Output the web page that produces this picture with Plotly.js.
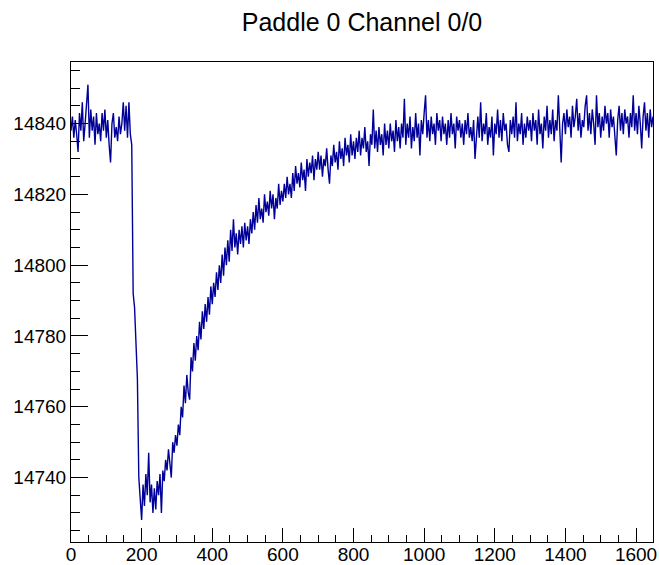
<!DOCTYPE html>
<html>
<head>
<meta charset="utf-8">
<script src="https://cdn.plot.ly/plotly-3.0.1.min.js"></script>
<style>html,body{margin:0;padding:0;background:#fff;}#chart{width:659px;height:565px;}</style>
</head>
<body>
<div id="chart"></div>
<script>
const STEP = 4;

// Segment start positions (x)
const baselineStart = 0;
const dropStart = 172;
const troughStart = 200;
const riseStart = 300;
const approachStart = 704;
const tailStart = 1104;

// ADC values (one value every STEP units)
const baseline = [14838,14842,14836,14841,14837,14832,14843,14838,14846,14835,14840,14847,14851,14836,14844,14838,14842,14834,14843,14837,14840,14835,14843,14838,14844,14836,14841,14834,14829,14840,14843,14836,14839,14835,14842,14837,14840,14846,14838,14845,14836,14846,14837];

const drop = [14834,14792,14788,14777,14768,14740,14733];

const trough = [14728,14738,14732,14741,14735,14747,14733,14738,14730,14737,14731,14739,14735,14741,14730,14742,14739,14745,14742,14748,14744,14740,14750,14747,14752];

const rise = [14749,14755,14752,14760,14757,14766,14761,14769,14764,14762,
  14774,14770,14778,14773,14780,14776,14784,14779,14787,14782,
  14789,14784,14791,14786,14794,14789,14795,14791,14798,14793,
  14800,14795,14803,14797,14805,14800,14807,14801,14810,14804,
  14813,14805,14809,14803,14810,14806,14811,14805,14812,14807,
  14811,14806,14813,14809,14815,14810,14817,14812,14819,14813,
  14816,14812,14820,14815,14818,14814,14821,14816,14820,14813,
  14819,14816,14823,14817,14821,14818,14823,14819,14825,14820,
  14823,14819,14826,14821,14828,14823,14826,14822,14829,14824,
  14827,14821,14830,14825,14829,14826,14831,14824,14830,14827,
  14832];

const approach = [14827,14831,14825,14830,14828,14833,14827,14823,14831,14828,
  14834,14829,14832,14827,14835,14830,14833,14828,14836,14831,
  14834,14829,14837,14831,14835,14830,14836,14832,14838,14831,
  14836,14833,14839,14832,14835,14828,14837,14834,14844,14833,
  14838,14832,14839,14834,14837,14831,14840,14834,14838,14833,
  14840,14835,14838,14832,14841,14835,14839,14833,14840,14836,
  14847,14834,14840,14836,14842,14833,14839,14835,14843,14836,
  14840,14831,14841,14837,14843,14848,14836,14841,14835,14842,
  14837,14840,14834,14843,14838,14841,14835,14842,14837,14840,
  14834,14841,14836,14843,14837,14840,14833,14842,14838,14841];

const tail = [14836,14840,14834,14841,14837,14843,14836,14839,14835,14841,
  14830,14838,14842,14836,14846,14835,14840,14837,14843,14834,
  14839,14836,14842,14831,14840,14837,14844,14836,14841,14835,
  14843,14838,14840,14834,14832,14841,14837,14842,14836,14846,
  14835,14840,14837,14843,14834,14840,14836,14842,14838,14841,
  14835,14843,14838,14841,14834,14844,14837,14840,14833,14842,
  14838,14845,14836,14841,14837,14844,14835,14841,14838,14848,
  14836,14829,14840,14843,14837,14844,14839,14842,14836,14845,
  14839,14842,14847,14838,14843,14836,14841,14839,14845,14848,
  14838,14843,14837,14844,14840,14834,14848,14839,14843,14836,
  14842,14838,14845,14840,14843,14836,14844,14839,14842,14835,
  14831,14841,14845,14838,14843,14837,14844,14840,14842,14836,
  14843,14839,14848,14838,14843,14837,14845,14840,14833,14842,
  14846,14838,14843,14836,14844,14839,14842];

const segments = [
  [baselineStart, baseline],
  [dropStart, drop],
  [troughStart, trough],
  [riseStart, rise],
  [approachStart, approach],
  [tailStart, tail]
];

const xs = [], ys = [];
segments.forEach(([start, vals]) => {
  vals.forEach((v, i) => { xs.push(start + i * STEP); ys.push(v); });
});

const FONT = 'Liberation Sans, Arial, Helvetica, sans-serif';

const trace = {
  x: xs, y: ys, type: 'scatter', mode: 'lines',
  line: {color: '#000099', width: 1.4},
  hoverinfo: 'x+y'
};

const layout = {
  width: 659, height: 565,
  margin: {l: 71, r: 6, t: 62, b: 23, pad: 0},
  paper_bgcolor: '#ffffff', plot_bgcolor: '#ffffff',
  showlegend: false,
  font: {family: FONT, size: 19, color: '#000'},
  title: {
    text: 'Paddle 0 Channel 0/0',
    font: {family: FONT, size: 25, color: '#000'},
    xref: 'paper', x: 0.5, xanchor: 'center',
    yref: 'container', y: 1 - 22 / 565, yanchor: 'middle'
  },
  xaxis: {
    range: [0, 1648], autorange: false,
    tickmode: 'linear', tick0: 0, dtick: 200,
    ticks: 'inside', ticklen: 14, tickwidth: 1, tickcolor: '#000',
    minor: {ticks: 'inside', ticklen: 7, dtick: 50, tick0: 0, tickcolor: '#000', tickwidth: 1, showgrid: false},
    showgrid: false, zeroline: false,
    showline: true, linecolor: '#000', linewidth: 1, mirror: true,
    tickfont: {family: FONT, size: 19, color: '#000'},
    ticklabelstandoff: -5,
    tickformat: 'd'
  },
  yaxis: {
    range: [14721.8, 14857.4], autorange: false,
    tickmode: 'linear', tick0: 14740, dtick: 20,
    ticks: 'inside', ticklen: 17, tickwidth: 1, tickcolor: '#000',
    minor: {ticks: 'inside', ticklen: 9, dtick: 5, tick0: 14740, tickcolor: '#000', tickwidth: 1, showgrid: false},
    showgrid: false, zeroline: false,
    showline: true, linecolor: '#000', linewidth: 1, mirror: true,
    tickfont: {family: FONT, size: 19, color: '#000'},
    tickformat: 'd'
  }
};

Plotly.newPlot('chart', [trace], layout, {displayModeBar: false, staticPlot: true});
</script>
</body>
</html>
